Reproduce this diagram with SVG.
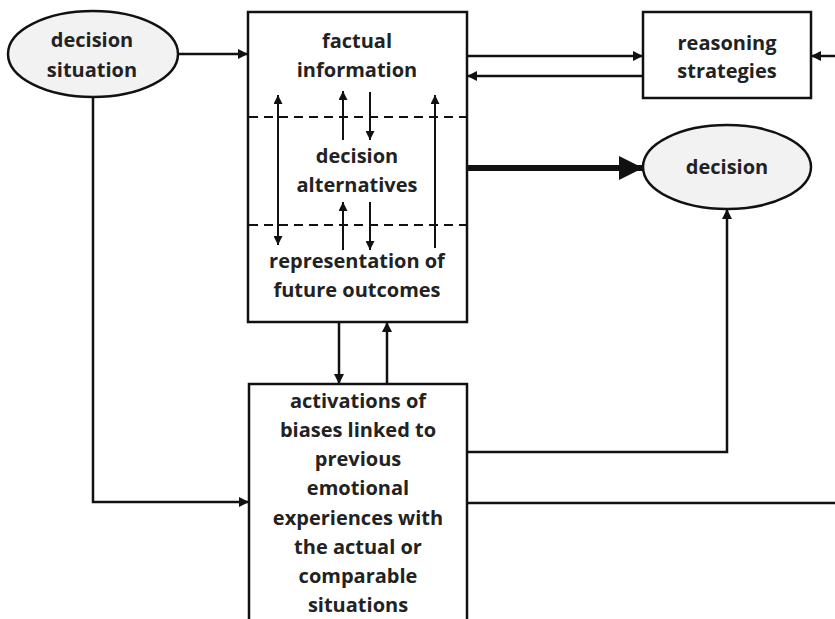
<svg xmlns="http://www.w3.org/2000/svg" width="835" height="619" viewBox="0 0 835 619">
  <style>
    .box { fill: #ffffff; stroke: #111; stroke-width: 2.5; }
    .oval { fill: #f2f2f2; stroke: #111; stroke-width: 2.5; }
    .dash { stroke: #111; stroke-width: 2; stroke-dasharray: 9 6; fill: none; }
    .ln { stroke: #111; stroke-width: 2.5; fill: none; }
    .thin { stroke: #111; stroke-width: 2; fill: none; }
    .thick { stroke: #111; stroke-width: 6; fill: none; }
    text { font-family: "Open Sans", "Liberation Sans", sans-serif; font-weight: 700; font-size: 20px; fill: #222; text-anchor: middle; }
  </style>
  <defs>
    <marker id="ah" viewBox="0 0 10 10" refX="10" refY="5" markerWidth="4" markerHeight="4" orient="auto" markerUnits="strokeWidth">
      <path d="M0,0 L10,5 L0,10 Z" fill="#111"/>
    </marker>
    <marker id="ahs" viewBox="0 0 10 10" refX="10" refY="5" markerWidth="4.5" markerHeight="4.5" orient="auto-start-reverse" markerUnits="strokeWidth">
      <path d="M0,0 L10,5 L0,10 Z" fill="#111"/>
    </marker>
    <marker id="ahb" viewBox="0 0 10 10" refX="10" refY="5" markerWidth="4" markerHeight="4" orient="auto" markerUnits="strokeWidth">
      <path d="M0,0 L10,5 L0,10 Z" fill="#111"/>
    </marker>
  </defs>

  <g id="connectors">
    <!-- decision situation to main box -->
    <path class="ln" d="M178,54 L248,54" marker-end="url(#ah)"/>
    <!-- decision situation down and across to bias box -->
    <path class="ln" d="M93,97 L93,502 L249,502" marker-end="url(#ah)"/>
    <!-- main box to reasoning strategies and back -->
    <path class="ln" d="M467,56 L643,56" marker-end="url(#ah)"/>
    <path class="ln" d="M643,76 L467,76" marker-end="url(#ah)"/>
    <!-- incoming from right edge -->
    <path class="ln" d="M835,56 L811,56" marker-end="url(#ah)"/>
    <!-- main box to decision -->
    <path class="thick" d="M467,168 L643,168" marker-end="url(#ahb)"/>
    <!-- main box and bias box exchange -->
    <path class="ln" d="M339,322 L339,384" marker-end="url(#ah)"/>
    <path class="ln" d="M387,384 L387,322" marker-end="url(#ah)"/>
    <!-- bias box to decision -->
    <path class="ln" d="M467,452 L727,452 L727,209" marker-end="url(#ah)"/>
    <!-- bias box to right edge -->
    <path class="ln" d="M467,503 L835,503"/>
  </g>

  <g id="decision-situation">
    <ellipse class="oval" cx="93" cy="54" rx="85" ry="43"/>
    <text x="92" y="47">decision</text>
    <text x="92" y="77">situation</text>
  </g>

  <g id="main-box">
    <rect class="box" x="248" y="12" width="219" height="310"/>
    <path class="dash" d="M249,117 L466,117 M249,225 L466,225"/>
    <text x="357" y="48">factual</text>
    <text x="357" y="77">information</text>
    <text x="357" y="163">decision</text>
    <text x="357" y="192">alternatives</text>
    <text x="357" y="268">representation of</text>
    <text x="357" y="297">future outcomes</text>
    <!-- internal links between layers -->
    <path class="thin" d="M278,95 L278,245" marker-start="url(#ahs)" marker-end="url(#ahs)"/>
    <path class="thin" d="M435,248 L435,95" marker-end="url(#ahs)"/>
    <path class="thin" d="M343,140 L343,91" marker-end="url(#ahs)"/>
    <path class="thin" d="M370,92 L370,140" marker-end="url(#ahs)"/>
    <path class="thin" d="M343,250 L343,202" marker-end="url(#ahs)"/>
    <path class="thin" d="M370,202 L370,250" marker-end="url(#ahs)"/>
  </g>

  <g id="reasoning-strategies">
    <rect class="box" x="643" y="12" width="168" height="86"/>
    <text x="727" y="50">reasoning</text>
    <text x="727" y="78">strategies</text>
  </g>

  <g id="decision">
    <ellipse class="oval" cx="727" cy="167" rx="84" ry="42"/>
    <text x="727" y="174">decision</text>
  </g>

  <g id="bias-box">
    <rect class="box" x="249" y="384" width="218" height="250"/>
    <text x="358" y="408">activations of</text>
    <text x="358" y="437">biases linked to</text>
    <text x="358" y="466">previous</text>
    <text x="358" y="495">emotional</text>
    <text x="358" y="525">experiences with</text>
    <text x="358" y="554">the actual or</text>
    <text x="358" y="583">comparable</text>
    <text x="358" y="612">situations</text>
  </g>
</svg>
